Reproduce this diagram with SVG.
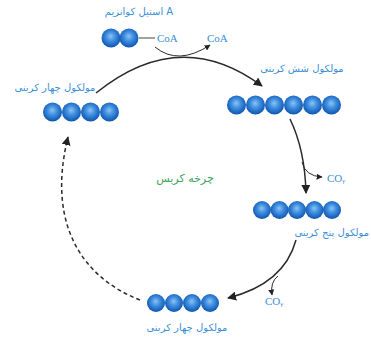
<svg xmlns="http://www.w3.org/2000/svg" width="371" height="343" viewBox="0 0 371 343">
<style>
.lbl{font-family:"DejaVu Sans",sans-serif;font-size:10px;fill:#3a8ed6;text-anchor:middle}
.coa{font-family:"Liberation Serif",serif;font-size:11px;fill:#3a8ed6}
.arc{fill:none;stroke:#2a2a2a;stroke-width:1.5}
.br{fill:none;stroke:#2a2a2a;stroke-width:1}
.ball{fill:url(#bg)}
</style>
<defs>
<radialGradient id="bg" cx="0.5" cy="0.45" r="0.55" fx="0.48" fy="0.4">
<stop offset="0" stop-color="#8cc4f2"/>
<stop offset="0.45" stop-color="#3f8ee0"/>
<stop offset="1" stop-color="#0d55b0"/>
</radialGradient>
<marker id="ah" viewBox="0 0 10 10" refX="9" refY="5" markerWidth="6" markerHeight="6" markerUnits="userSpaceOnUse" orient="auto">
<path d="M0,0 L10,5 L0,10 z" fill="#222"/>
</marker>
<marker id="ahs" viewBox="0 0 10 10" refX="9" refY="5" markerWidth="9" markerHeight="9" markerUnits="userSpaceOnUse" orient="auto">
<path d="M0,0 L10,5 L0,10 z" fill="#222"/>
</marker>
</defs>

<g id="acetylcoa">
<text class="lbl" x="139" y="15">استیل کوانزیم A</text>
<circle class="ball" cx="111" cy="38" r="9.5"/>
<circle class="ball" cx="129" cy="38" r="9.5"/>
<line x1="139" y1="38" x2="155" y2="38" stroke="#444" stroke-width="1"/>
<text class="coa" x="157" y="42">CoA</text>
</g>
<g id="coa-out">
<text class="coa" x="207" y="42">CoA</text>
</g>

<g id="six-carbon">
<text class="lbl" x="302" y="72">مولکول شش کربنی</text>
<circle class="ball" cx="236.5" cy="105" r="9.5"/>
<circle class="ball" cx="255.5" cy="105" r="9.5"/>
<circle class="ball" cx="274.5" cy="105" r="9.5"/>
<circle class="ball" cx="293.5" cy="105" r="9.5"/>
<circle class="ball" cx="312.5" cy="105" r="9.5"/>
<circle class="ball" cx="331.5" cy="105" r="9.5"/>
</g>

<g id="co2-a">
<text class="coa" x="327" y="182">CO<tspan font-family="DejaVu Sans" font-size="6" dy="2">۲</tspan></text>
</g>

<g id="five-carbon">
<circle class="ball" cx="262" cy="210" r="9"/>
<circle class="ball" cx="279.5" cy="210" r="9"/>
<circle class="ball" cx="297" cy="210" r="9"/>
<circle class="ball" cx="314.5" cy="210" r="9"/>
<circle class="ball" cx="332" cy="210" r="9"/>
<text class="lbl" x="369" y="236" style="text-anchor:end">مولکول پنج کربنی</text>
</g>

<g id="co2-b">
<text class="coa" x="265" y="305">CO<tspan font-family="DejaVu Sans" font-size="6" dy="2">۲</tspan></text>
</g>

<g id="four-carbon-bottom">
<circle class="ball" cx="156" cy="303" r="9"/>
<circle class="ball" cx="174" cy="303" r="9"/>
<circle class="ball" cx="192" cy="303" r="9"/>
<circle class="ball" cx="210" cy="303" r="9"/>
<text class="lbl" x="187" y="331">مولکول چهار کربنی</text>
</g>

<g id="four-carbon-top">
<text class="lbl" x="55" y="91">مولکول چهار کربنی</text>
<circle class="ball" cx="52.5" cy="112" r="9.5"/>
<circle class="ball" cx="71.5" cy="112" r="9.5"/>
<circle class="ball" cx="90.5" cy="112" r="9.5"/>
<circle class="ball" cx="109.5" cy="112" r="9.5"/>
</g>

<g id="title">
<text x="185" y="182" font-family="DejaVu Sans, sans-serif" font-size="11" fill="#3aa35e" text-anchor="middle">چرخه کربس</text>
</g>

<g id="connectors">
<path class="arc" d="M96 93 Q180 25 262 86" marker-end="url(#ahs)"/>
<path class="br" d="M155 47 Q178 66 210 45" marker-end="url(#ah)"/>
<path class="arc" d="M290 119 Q305 150 306 193" marker-end="url(#ahs)"/>
<path class="br" d="M302 162 Q305 176 322 177" marker-end="url(#ah)"/>
<path class="arc" d="M296 240 Q284 284 228 298" marker-end="url(#ahs)"/>
<path class="br" d="M278 276 Q270 282 272 295" marker-end="url(#ah)"/>
<path class="arc" d="M140 300 C88 280 45 230 68 137" stroke-dasharray="4,3" marker-end="url(#ahs)"/>
</g>
</svg>
